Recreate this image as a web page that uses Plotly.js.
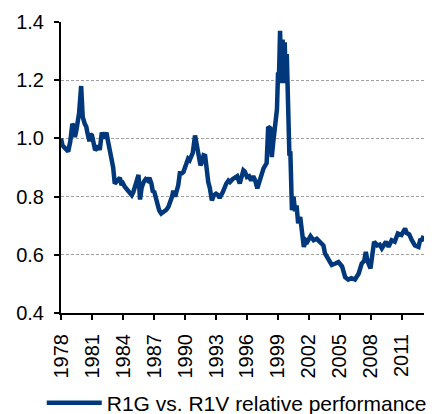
<!DOCTYPE html>
<html><head><meta charset="utf-8">
<script src="https://cdn.plot.ly/plotly-3.0.1.min.js"></script>
<style>html,body{margin:0;padding:0;background:#fff;}#chart{width:432px;height:414px;}</style>
</head><body><div id="chart"></div>
<script>
const years = [1978.0,1978.15,1978.3,1978.5,1978.7,1978.9,1979.1,1979.25,1979.35,1979.5,1979.6,1979.75,1979.95,1980.1,1980.3,1980.45,1980.55,1980.75,1980.85,1981.0,1981.15,1981.3,1981.45,1981.6,1981.75,1981.95,1982.15,1982.4,1982.55,1982.7,1982.85,1983.05,1983.2,1983.35,1983.5,1983.7,1983.85,1984.0,1984.15,1984.4,1984.6,1984.85,1985.0,1985.15,1985.3,1985.5,1985.65,1985.8,1986.0,1986.2,1986.4,1986.55,1986.75,1986.9,1987.0,1987.25,1987.5,1987.7,1987.85,1988.05,1988.2,1988.4,1988.55,1988.75,1988.87,1989.05,1989.2,1989.35,1989.5,1989.7,1989.85,1990.1,1990.3,1990.45,1990.55,1990.75,1990.97,1991.15,1991.3,1991.5,1991.65,1991.8,1991.95,1992.1,1992.25,1992.4,1992.6,1992.8,1993.0,1993.2,1993.35,1993.65,1993.8,1994.0,1994.2,1994.35,1994.6,1994.85,1995.05,1995.3,1995.5,1995.65,1995.8,1996.0,1996.2,1996.4,1996.6,1996.8,1997.0,1997.15,1997.35,1997.6,1997.9,1998.05,1998.25,1998.4,1998.55,1998.7,1998.9,1999.0,1999.1,1999.2,1999.33,1999.45,1999.55,1999.65,1999.75,1999.85,1999.95,2000.1,2000.2,2000.3,2000.35,2000.5,2000.65,2000.8,2000.95,2001.15,2001.3,2001.5,2001.7,2001.85,2002.15,2002.45,2002.75,2003.05,2003.4,2003.55,2003.9,2004.2,2004.55,2004.85,2005.2,2005.5,2005.8,2006.1,2006.45,2006.8,2007.1,2007.35,2007.5,2007.65,2007.95,2008.15,2008.3,2008.6,2008.85,2009.05,2009.25,2009.45,2009.7,2010.0,2010.3,2010.6,2010.95,2011.3,2011.45,2011.7,2011.95,2012.25,2012.6,2012.75,2012.95,2013.1];
const ratio = [1.00,0.975,0.97,0.96,0.955,0.99,1.05,1.04,1.005,1.03,1.05,1.087,1.18,1.074,1.05,1.04,1.02,0.99,1.015,1.01,0.985,0.96,0.965,0.975,0.96,1.02,1.0,1.02,0.99,0.97,0.936,0.90,0.845,0.85,0.855,0.865,0.84,0.845,0.835,0.825,0.815,0.805,0.815,0.835,0.86,0.875,0.79,0.83,0.85,0.86,0.855,0.865,0.845,0.815,0.82,0.777,0.753,0.742,0.745,0.75,0.755,0.765,0.777,0.80,0.82,0.80,0.82,0.84,0.88,0.88,0.885,0.914,0.93,0.925,0.935,0.95,1.01,0.97,0.94,0.907,0.92,0.942,0.94,0.885,0.85,0.83,0.787,0.805,0.81,0.805,0.795,0.815,0.83,0.845,0.855,0.85,0.86,0.867,0.87,0.845,0.88,0.89,0.885,0.867,0.87,0.855,0.87,0.855,0.828,0.845,0.867,0.897,0.915,1.04,1.035,0.936,0.99,1.03,1.10,1.22,1.22,1.37,1.19,1.34,1.19,1.33,1.20,1.29,1.14,0.948,0.948,0.81,0.753,0.80,0.75,0.77,0.708,0.73,0.684,0.627,0.65,0.645,0.664,0.65,0.655,0.645,0.632,0.605,0.582,0.565,0.57,0.575,0.56,0.523,0.515,0.52,0.515,0.535,0.57,0.58,0.61,0.58,0.553,0.627,0.645,0.632,0.635,0.622,0.632,0.645,0.628,0.65,0.645,0.673,0.668,0.69,0.675,0.67,0.65,0.632,0.627,0.65,0.652,0.665];
const tickYears = [1978,1981,1984,1987,1990,1993,1996,1999,2002,2005,2008,2011];
const yTicks = [0.4,0.6,0.8,1.0,1.2,1.4];
const seriesName = 'R1G vs. R1V relative performance';

const data = [{
  x: years, y: ratio, type: 'scatter', mode: 'lines', name: seriesName,
  line: {color: '#00387b', width: 4.5}
}];
const layout = {
  width: 432, height: 414,
  margin: {l: 61, r: 8, t: 22, b: 101},
  paper_bgcolor: '#fff', plot_bgcolor: '#fff',
  font: {family: 'Liberation Sans, Arial, sans-serif', color: '#000'},
  showlegend: true,
  legend: {orientation: 'h', x: -0.053, xanchor: 'left', yref: 'container', y: 0.076, yanchor: 'top',
           font: {size: 21, color: '#000'}, itemwidth: 55, bgcolor: 'rgba(0,0,0,0)'},
  xaxis: {range: [1978, 2013.13], tickmode: 'array', tickvals: tickYears,
          ticktext: tickYears.map(String), tickangle: -90, ticks: 'outside', ticklen: 5,
          tickcolor: '#000', tickwidth: 2, showline: true, linecolor: '#000', linewidth: 2,
          showgrid: false, zeroline: false, tickfont: {size: 20}, automargin: false,
          ticklabelstandoff: 6},
  yaxis: {range: [0.4, 1.4], tickmode: 'array', tickvals: yTicks,
          ticktext: yTicks.map(v => v.toFixed(1)), ticks: 'outside', ticklen: 5,
          tickcolor: '#000', tickwidth: 2, showline: true, linecolor: '#000', linewidth: 2,
          showgrid: true, gridcolor: '#a0a0a0', griddash: '3px,2px', gridwidth: 1,
          zeroline: false, tickfont: {size: 20}, automargin: false, ticklabelstandoff: 6}
};
Plotly.newPlot('chart', data, layout, {displayModeBar: false, staticPlot: true});
</script></body></html>
